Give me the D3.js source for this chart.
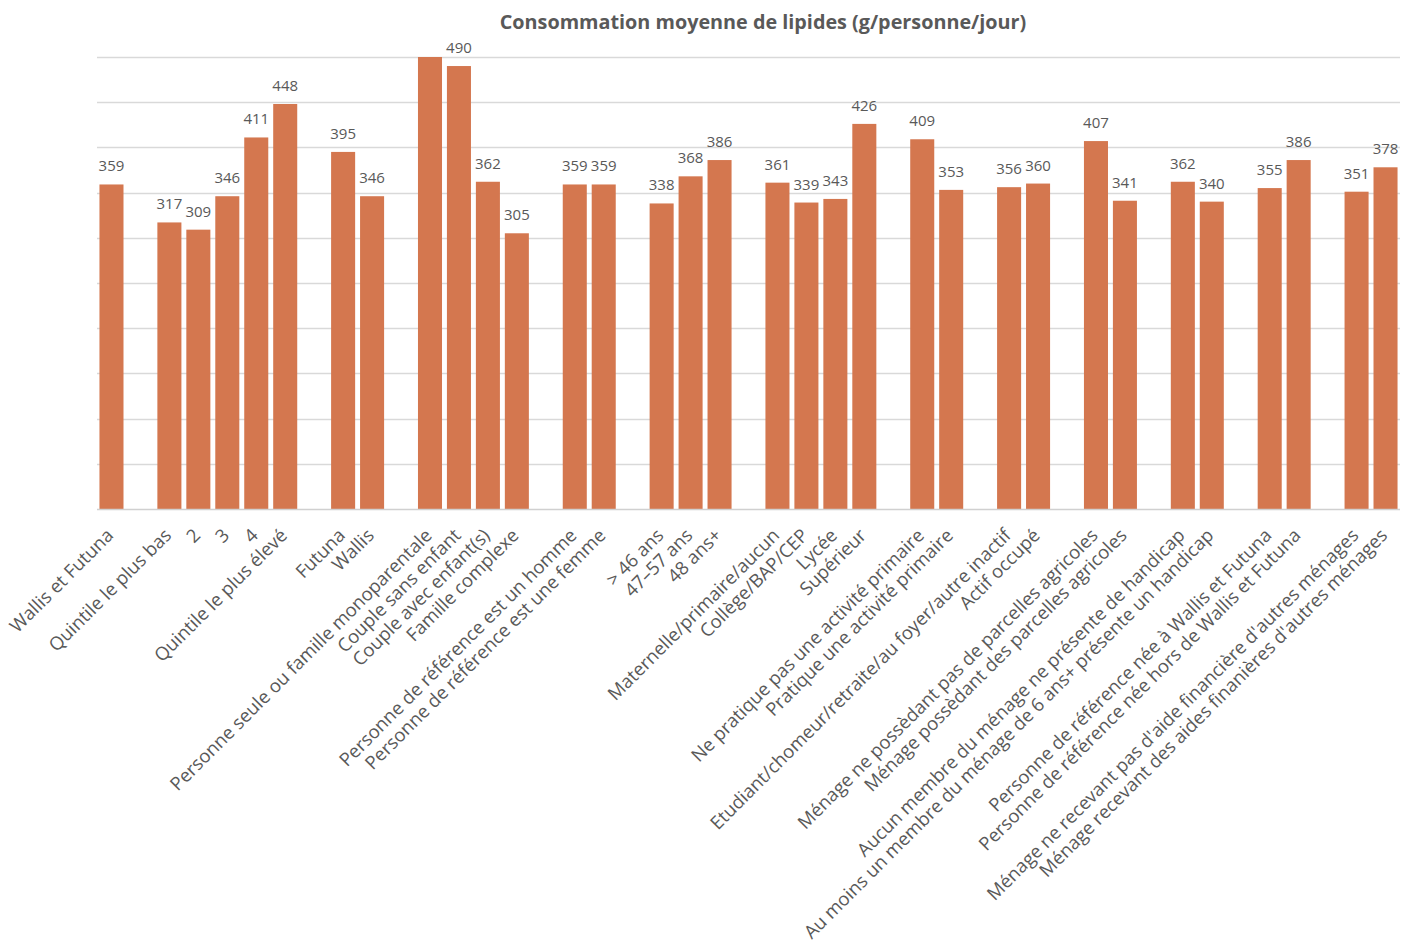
<!DOCTYPE html>
<html><head><meta charset="utf-8">
<script src="https://cdn.jsdelivr.net/npm/d3@7"></script>
<style>
html,body{margin:0;padding:0;background:#fff;}
svg{display:block;font-family:"Open Sans",sans-serif;}
</style></head>
<body>
<svg id="chart" width="1410" height="945"></svg>
<script>
const title = "Consommation moyenne de lipides (g/personne/jour)";
const categories = [
  "Wallis et Futuna",
  "Quintile le plus bas","2","3","4","Quintile le plus élevé",
  "Futuna","Wallis",
  "Personne seule ou famille monoparentale","Couple sans enfant","Couple avec enfant(s)","Famille complexe",
  "Personne de référence est un homme","Personne de référence est une femme",
  "> 46 ans","47–57 ans","48 ans+",
  "Maternelle/primaire/aucun","Collège/BAP/CEP","Lycée","Supérieur",
  "Ne pratique pas une activité primaire","Pratique une activité primaire",
  "Etudiant/chomeur/retraite/au foyer/autre inactif","Actif occupé",
  "Ménage ne possèdant pas de parcelles agricoles","Ménage possèdant des parcelles agricoles",
  "Aucun membre du ménage ne présente de handicap","Au moins un membre du ménage de 6 ans+ présente un handicap",
  "Personne de référence née à Wallis et Futuna","Personne de référence née hors de Wallis et Futuna",
  "Ménage ne recevant pas d'aide financière d'autres ménages","Ménage recevant des aides finanières d'autres ménages"
];
const values = [
  359,
  317,309,346,411,448,
  395,346,
  520,490,362,305,
  359,359,
  338,368,386,
  361,339,343,426,
  409,353,
  356,360,
  407,341,
  362,340,
  355,386,
  351,378
];
const groupSizes = [1,5,2,4,2,3,4,2,2,2,2,2,2];
const yTicks = [0,50,100,150,200,250,300,350,400,450,500];

// build slots with an empty slot between groups
const slots = [];
const items = [];
let idx = 0;
groupSizes.forEach((n, g) => {
  if (g > 0) slots.push("gap" + g);
  for (let i = 0; i < n; i++) {
    const key = "c" + idx;
    slots.push(key);
    items.push({key, label: categories[idx], value: values[idx]});
    idx++;
  }
});

const svg = d3.select("#chart");
const mLeft = 97, mRight = 1400, mTop = 57, mBottom = 509;
const x = d3.scaleBand().domain(slots).range([mLeft, mRight]).paddingInner(0.17).paddingOuter(0.085);
const y = d3.scaleLinear().domain([0, 500]).range([mBottom, mTop]);

const textColor = "#595959";
const barColor = "#D4774F";

// title
svg.append("text")
  .attr("x", 763).attr("y", 29)
  .attr("text-anchor", "middle")
  .attr("font-size", 19.8).attr("font-weight", 700)
  .attr("fill", textColor)
  .text(title);

// gridlines
svg.append("g").selectAll("line").data(yTicks.filter(t => t > 0)).join("line")
  .attr("x1", mLeft).attr("x2", mRight)
  .attr("y1", d => Math.round(y(d)) + 0.5).attr("y2", d => Math.round(y(d)) + 0.5)
  .attr("stroke", "#d9d9d9").attr("stroke-width", 1.3);

// bars
svg.append("g").selectAll("rect").data(items).join("rect")
  .attr("x", d => x(d.key))
  .attr("width", x.bandwidth())
  .attr("y", d => y(Math.min(d.value, 500)))
  .attr("height", d => y(0) - y(Math.min(d.value, 500)))
  .attr("fill", barColor);

// baseline
svg.append("line")
  .attr("x1", mLeft).attr("x2", mRight)
  .attr("y1", y(0) + 0.5).attr("y2", y(0) + 0.5)
  .attr("stroke", "#d0d0d0").attr("stroke-width", 1.3);

// value labels
svg.append("g").selectAll("text").data(items.filter(d => d.value <= 500)).join("text")
  .attr("x", d => x(d.key) + x.bandwidth() / 2)
  .attr("y", d => y(d.value) - 13)
  .attr("text-anchor", "middle")
  .attr("font-size", 15)
  .attr("fill", textColor)
  .text(d => d.value);

// category labels
svg.append("g").selectAll("text").data(items).join("text")
  .attr("transform", d => `translate(${x(d.key) + x.bandwidth() / 2 - 1.5},${mBottom + 23}) rotate(-45)`)
  .attr("text-anchor", "end")
  .attr("dy", "0.35em")
  .attr("font-size", 18.5)
  .attr("fill", textColor)
  .text(d => d.label);
</script>
</body></html>
